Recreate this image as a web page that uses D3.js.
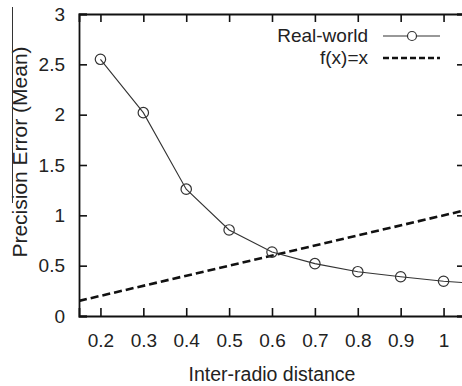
<!DOCTYPE html>
<html>
<head>
<meta charset="utf-8">
<script src="https://cdn.jsdelivr.net/npm/d3@7"></script>
<style>
  body { margin: 0; background: #fff; }
  svg { display: block; }
  text { font-family: "Liberation Sans", Arial, sans-serif; fill: #222; }
</style>
</head>
<body>
<svg id="chart" width="462" height="386"></svg>
<script>
// data
const distances = [0.2, 0.3, 0.4, 0.5, 0.6, 0.7, 0.8, 0.9, 1.0, 1.1];
const realWorld = [2.55, 2.02, 1.26, 0.855, 0.635, 0.52, 0.44, 0.39, 0.345, 0.315];
const identityX = [0.15, 1.05];
const xTicks = [0.2, 0.3, 0.4, 0.5, 0.6, 0.7, 0.8, 0.9, 1];
const yTicks = [0, 0.5, 1, 1.5, 2, 2.5, 3];
const legendLabels = ["Real-world", "f(x)=x"];

const svg = d3.select("#chart");
const margin = { top: 14, right: -3, bottom: 70, left: 79 };
const width = 462 - margin.left - margin.right;
const height = 386 - margin.top - margin.bottom;

const g = svg.append("g")
  .attr("transform", "translate(" + margin.left + "," + margin.top + ")");

const x = d3.scaleLinear().domain([0.15, 1.05]).range([0, width]);
const y = d3.scaleLinear().domain([0, 3]).range([height, 0]);

svg.append("defs").append("clipPath").attr("id", "clip")
  .append("rect").attr("width", width).attr("height", height);

const tickLen = 8;

// bottom axis + mirrored top ticks
const xAxis = g.append("g")
  .attr("transform", "translate(0," + height + ")")
  .call(d3.axisBottom(x).tickValues(xTicks).tickSize(-tickLen).tickPadding(18)
    .tickFormat(d => d === 1 ? "1" : d3.format(".1f")(d)));
g.append("g")
  .call(d3.axisTop(x).tickValues(xTicks).tickSize(-tickLen).tickFormat(""));

// left axis + mirrored right ticks
const yAxis = g.append("g")
  .call(d3.axisLeft(y).tickValues(yTicks).tickSize(-tickLen).tickPadding(14)
    .tickFormat(d => d3.format("")(d)));
g.append("g")
  .attr("transform", "translate(" + width + ",0)")
  .call(d3.axisRight(y).tickValues(yTicks).tickSize(-tickLen).tickFormat(""));

g.selectAll(".domain").attr("stroke", "#111").attr("stroke-width", 1.8);
g.selectAll(".tick line").attr("stroke", "#111").attr("stroke-width", 1.6);
g.selectAll(".tick text").attr("font-size", 19).attr("fill", "#222")
  .attr("font-family", "Liberation Sans, Arial, sans-serif");

// series
const plot = g.append("g").attr("clip-path", "url(#clip)");

plot.append("path")
  .datum(identityX)
  .attr("fill", "none")
  .attr("stroke", "#111")
  .attr("stroke-width", 2.6)
  .attr("stroke-dasharray", "8,4")
  .attr("d", d3.line().x(d => x(d)).y(d => y(d)));

const pts = distances.map((d, i) => ({ x: d, y: realWorld[i] }));

plot.append("path")
  .datum(pts)
  .attr("fill", "none")
  .attr("stroke", "#333")
  .attr("stroke-width", 1.1)
  .attr("d", d3.line().x(d => x(d.x)).y(d => y(d.y)));

plot.selectAll("circle.pt")
  .data(pts)
  .enter()
  .append("circle")
  .attr("class", "pt")
  .attr("cx", d => x(d.x))
  .attr("cy", d => y(d.y))
  .attr("r", 5.2)
  .attr("fill", "none")
  .attr("stroke", "#333")
  .attr("stroke-width", 1.2);

// legend
const legend = svg.append("g");
legend.append("text")
  .attr("x", 368).attr("y", 42)
  .attr("text-anchor", "end").attr("font-size", 19)
  .text(legendLabels[0]);
legend.append("line")
  .attr("x1", 383).attr("x2", 440).attr("y1", 36).attr("y2", 36)
  .attr("stroke", "#333").attr("stroke-width", 1.1);
legend.append("circle")
  .attr("cx", 412).attr("cy", 36).attr("r", 4.5)
  .attr("fill", "#fff").attr("stroke", "#333").attr("stroke-width", 1.2);
legend.append("text")
  .attr("x", 368).attr("y", 64)
  .attr("text-anchor", "end").attr("font-size", 19)
  .text(legendLabels[1]);
legend.append("line")
  .attr("x1", 383).attr("x2", 440).attr("y1", 58).attr("y2", 58)
  .attr("stroke", "#111").attr("stroke-width", 2.6)
  .attr("stroke-dasharray", "6,3");

// axis titles
svg.append("text")
  .attr("x", margin.left + x(0.6)).attr("y", 381)
  .attr("text-anchor", "middle").attr("font-size", 19.5)
  .text("Inter-radio distance");

svg.append("text")
  .attr("transform", "translate(27,152) rotate(-90)")
  .attr("text-anchor", "middle").attr("font-size", 21)
  .text("Precision Error (Mean)");

// thin scan artefact line left of the y title
svg.append("line")
  .attr("x1", 12.5).attr("x2", 12.5).attr("y1", 7).attr("y2", 203)
  .attr("stroke", "#333").attr("stroke-width", 1);
</script>
</body>
</html>
